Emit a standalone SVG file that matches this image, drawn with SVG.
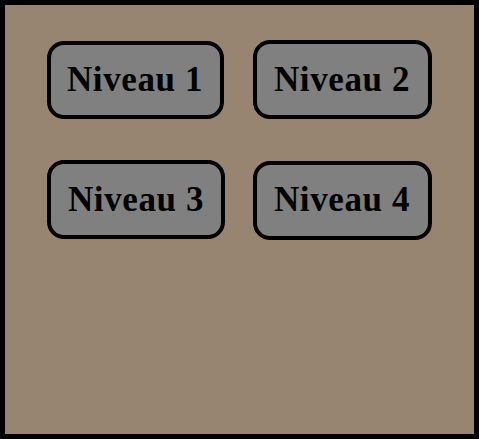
<svg xmlns="http://www.w3.org/2000/svg" width="479" height="439" viewBox="0 0 479 439">
<style>
.btn{fill:#808080;stroke:#000;stroke-width:4}
.lbl{font-family:"Liberation Serif","Times New Roman",serif;font-weight:bold;font-size:35px;letter-spacing:0.6px;fill:#000;text-anchor:middle}
</style>
<rect x="0" y="0" width="479" height="439" fill="#000"/>
<rect x="5" y="5" width="469" height="429" fill="#978471"/>
<g id="niveau1">
<rect class="btn" x="49" y="43" width="173" height="74" rx="15"/>
<text class="lbl" x="135" y="91">Niveau 1</text>
</g>
<g id="niveau2">
<rect class="btn" x="255" y="42" width="175" height="75" rx="15"/>
<text class="lbl" x="342" y="91">Niveau 2</text>
</g>
<g id="niveau3">
<rect class="btn" x="49" y="162" width="174" height="75" rx="15"/>
<text class="lbl" x="136" y="211">Niveau 3</text>
</g>
<g id="niveau4">
<rect class="btn" x="255" y="163" width="175" height="75" rx="15"/>
<text class="lbl" x="342" y="211">Niveau 4</text>
</g>
<g id="connectors"></g>
</svg>
